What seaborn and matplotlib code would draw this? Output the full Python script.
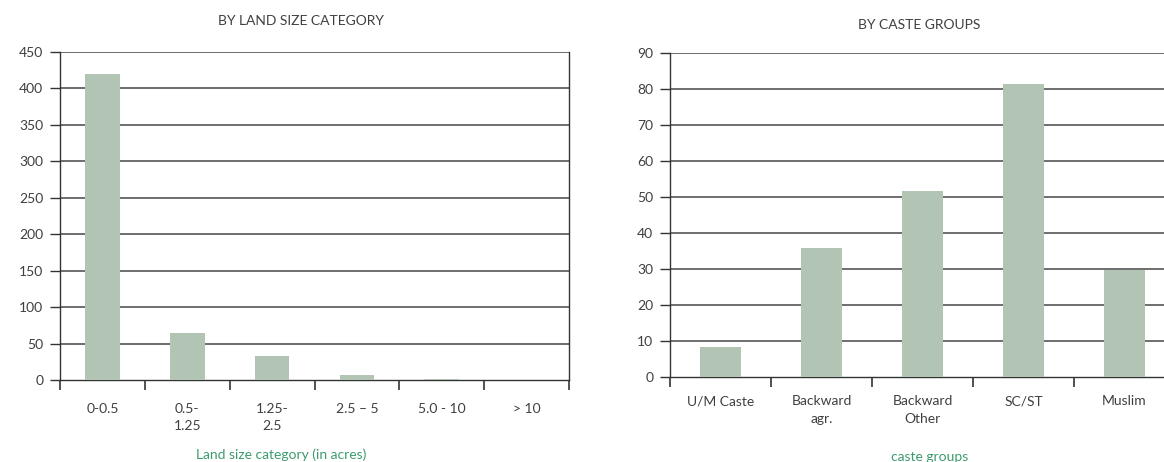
import numpy as np
import pandas as pd
import matplotlib
matplotlib.use("Agg")
import matplotlib.pyplot as plt
import seaborn as sns

# Households by land size (acres) and by caste group
land_categories = ["0-0.5", "0.5-\n1.25", "1.25-\n2.5", "2.5 – 5", "5.0 - 10", "> 10"]
land_counts = [420, 65, 33, 7, 1, 0]

caste_categories = ["U/M Caste", "Backward\nagr.", "Backward\nOther", "SC/ST", "Muslim"]
caste_counts = [8.3, 35.8, 51.6, 81.4, 29.8]

land_ticks = [0, 50, 100, 150, 200, 250, 300, 350, 400, 450]
caste_ticks = [0, 10, 20, 30, 40, 50, 60, 70, 80, 90]

sns.set_theme(style="white")
plt.rcParams["font.family"] = ["Lato", "DejaVu Sans"]

BAR = "#b2c5b5"
TEXT = "#404040"
GREEN = "#3d9a6e"
GRID = "#6e6e6e"

fig = plt.figure(figsize=(11.64, 4.62), dpi=100)
ax1 = fig.add_axes([60 / 1164, 1 - 380 / 462, 509 / 1164, 328 / 462])
ax2 = fig.add_axes([670 / 1164, 1 - 377 / 462, 505 / 1164, 324.5 / 462])


def draw(ax, cats, vals, ticks, label_pad):
    df = pd.DataFrame({"cat": cats, "val": vals})
    sns.barplot(data=df, x="cat", y="val", color=BAR, width=0.41,
                saturation=1, linewidth=0, edgecolor="none", ax=ax, zorder=3)
    n = len(cats)
    ax.set_xlim(-0.5, n - 0.5)
    ax.set_ylim(ticks[0], ticks[-1])
    ax.set_yticks(ticks)
    ax.set_yticklabels([str(t) for t in ticks], color=TEXT, fontsize=10)
    # boundaries carry the tick marks, centres carry the labels
    ax.set_xticks(np.arange(-0.5, n), minor=False)
    ax.set_xticklabels([""] * (n + 1))
    ax.set_xticks(np.arange(n), minor=True)
    ax.set_xticklabels(cats, minor=True, color=TEXT, fontsize=10,
                       linespacing=1.55)
    ax.tick_params(axis="x", which="major", length=7, width=1.2,
                   color="#333333", direction="out", bottom=True)
    ax.tick_params(axis="x", which="minor", length=0, pad=label_pad)
    ax.tick_params(axis="y", length=7, width=1.0, color="#333333",
                   direction="out", left=True, pad=5)
    for y in ticks[1:]:
        ax.axhline(y, color=GRID, lw=1.4, zorder=1)
    for side in ["left", "right", "bottom"]:
        ax.spines[side].set_visible(True)
        ax.spines[side].set_color("#333333")
        ax.spines[side].set_linewidth(1.0)
    ax.spines["top"].set_visible(False)
    ax.set_xlabel("")
    ax.set_ylabel("")
    ax.set_facecolor("white")


draw(ax1, land_categories, land_counts, land_ticks, 16.5)
draw(ax2, caste_categories, caste_counts, caste_ticks, 13)

fig.text(301 / 1164, 1 - 21 / 462, "BY LAND SIZE CATEGORY", ha="center",
         va="center", fontsize=10, color=TEXT)
fig.text(919 / 1164, 1 - 25 / 462, "BY CASTE GROUPS", ha="center",
         va="center", fontsize=10, color=TEXT)
fig.text(281 / 1164, 1 - 455 / 462, "Land size category (in acres)", ha="center",
         va="center", fontsize=10, color=GREEN)
fig.text(930 / 1164, 1 - 457 / 462, "caste groups", ha="center",
         va="center", fontsize=10, color=GREEN)

fig.savefig("out.png", dpi=100, facecolor="white")
